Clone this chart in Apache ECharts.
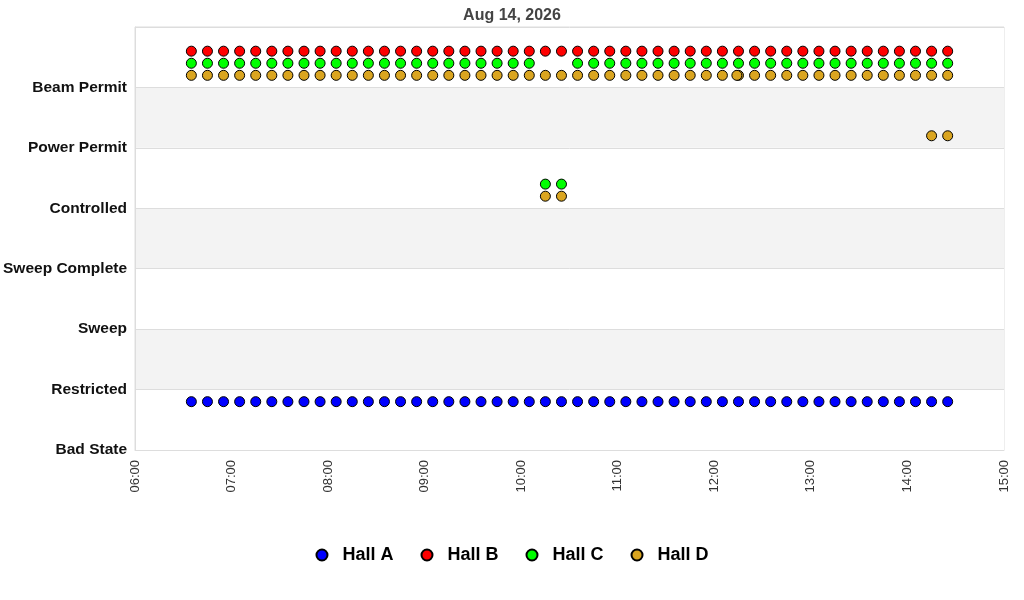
<!DOCTYPE html>
<html>
<head>
<meta charset="utf-8">
<script src="https://cdn.jsdelivr.net/npm/echarts@6/dist/echarts.min.js"></script>
<style>
  html, body { margin: 0; padding: 0; background: #fff; }
  #chart { width: 1024px; height: 600px; }
</style>
</head>
<body>
<div id="chart"></div>
<script>
// y axis states, bottom to top
const states = ['Bad State', 'Restricted', 'Sweep', 'Sweep Complete', 'Controlled', 'Power Permit', 'Beam Permit'];

// x axis hour ticks
const hourLabels = ['06:00', '07:00', '08:00', '09:00', '10:00', '11:00', '12:00', '13:00', '14:00', '15:00'];

// sample times (every reading)
const times = [
  '06:35', '06:45', '06:55', '07:05', '07:15', '07:25', '07:35', '07:45', '07:55', '08:05',
  '08:15', '08:25', '08:35', '08:45', '08:55', '09:05', '09:15', '09:25', '09:35', '09:45',
  '09:55', '10:05', '10:15', '10:25', '10:35', '10:45', '10:55', '11:05', '11:15', '11:25',
  '11:35', '11:45', '11:55', '12:05', '12:15', '12:25', '12:35', '12:45', '12:55', '13:05',
  '13:15', '13:25', '13:35', '13:45', '13:55', '14:05', '14:15', '14:25'
];

// state index per time, one array per hall
const hallA = [
  0, 0, 0, 0, 0, 0, 0, 0, 0, 0, 0, 0, 0, 0, 0, 0, 0, 0, 0, 0, 0, 0, 0, 0,
  0, 0, 0, 0, 0, 0, 0, 0, 0, 0, 0, 0, 0, 0, 0, 0, 0, 0, 0, 0, 0, 0, 0, 0
];
const hallB = [
  6, 6, 6, 6, 6, 6, 6, 6, 6, 6, 6, 6, 6, 6, 6, 6, 6, 6, 6, 6, 6, 6, 6, 6,
  6, 6, 6, 6, 6, 6, 6, 6, 6, 6, 6, 6, 6, 6, 6, 6, 6, 6, 6, 6, 6, 6, 6, 6
];
const hallC = [
  6, 6, 6, 6, 6, 6, 6, 6, 6, 6, 6, 6, 6, 6, 6, 6, 6, 6, 6, 6, 6, 6, 4, 4,
  6, 6, 6, 6, 6, 6, 6, 6, 6, 6, 6, 6, 6, 6, 6, 6, 6, 6, 6, 6, 6, 6, 6, 6
];
const hallD = [
  6, 6, 6, 6, 6, 6, 6, 6, 6, 6, 6, 6, 6, 6, 6, 6, 6, 6, 6, 6, 6, 6, 6, 6,
  6, 6, 6, 6, 6, 6, 6, 6, 6, 6, 6, 6, 6, 6, 6, 6, 6, 6, 6, 6, 6, 6, 6, 6
];
// extra Hall D readings [time, state]
const hallDExtra = [['10:15', 4], ['10:25', 4], ['12:14', 6], ['14:15', 5], ['14:25', 5]];

const hallNames = ['Hall A', 'Hall B', 'Hall C', 'Hall D'];
const hallColors = ['#0000ff', '#ff0000', '#00ff00', '#daa520'];
// vertical position of each hall inside a state band
const hallOffsets = [0.8, 0.6, 0.4, 0.2];

const toMin = t => {
  const p = t.split(':');
  return (+p[0] - 6) * 60 + (+p[1]);
};
const fmtMin = v => {
  const h = Math.floor(v / 60) + 6;
  const m = v % 60;
  return (h < 10 ? '0' : '') + h + ':' + (m < 10 ? '0' : '') + m;
};

const hallValues = [hallA, hallB, hallC, hallD];
const seriesData = hallValues.map((vals, i) => {
  const pts = vals.map((s, k) => [toMin(times[k]), s + hallOffsets[i]]);
  if (i === 3) {
    hallDExtra.forEach(e => pts.push([toMin(e[0]), e[1] + hallOffsets[i]]));
  }
  return pts;
});

const font = "'Liberation Sans', Arial, sans-serif";
const chart = echarts.init(document.getElementById('chart'));

chart.setOption({
  animation: false,
  backgroundColor: '#fff',
  title: {
    text: 'Aug 14, 2026',
    left: 'center',
    top: 3,
    textStyle: { fontFamily: font, fontSize: 16, fontWeight: 'bold', color: '#444' }
  },
  legend: {
    bottom: 31,
    left: 'center',
    icon: 'circle',
    itemWidth: 11,
    itemHeight: 11,
    itemGap: 27,
    data: hallNames,
    textStyle: { fontFamily: font, fontSize: 18, fontWeight: 'bold', color: '#000', padding: [0, 0, 0, 10] }
  },
  grid: {
    left: 135,
    right: 20,
    top: 27,
    bottom: 150,
    show: true,
    borderColor: '#dddddd',
    borderWidth: 1,
    containLabel: false
  },
  xAxis: {
    type: 'value',
    min: 0,
    max: 540,
    interval: 60,
    axisLine: { show: true, lineStyle: { color: '#dddddd' } },
    axisTick: { show: false },
    splitLine: { show: false },
    axisLabel: {
      rotate: 90,
      margin: 10,
      fontFamily: font,
      fontSize: 13,
      color: '#333',
      formatter: v => hourLabels[v / 60] || fmtMin(v)
    }
  },
  yAxis: {
    type: 'value',
    min: 0,
    max: 7,
    interval: 1,
    axisLine: { show: true, lineStyle: { color: '#dddddd' } },
    axisTick: { show: false },
    splitLine: { show: true, lineStyle: { color: '#dddddd' } },
    splitArea: { show: true, areaStyle: { color: ['#ffffff', '#f3f3f3'] } },
    axisLabel: {
      margin: 8,
      fontFamily: font,
      fontSize: 15.5,
      fontWeight: 'bold',
      color: '#111',
      formatter: v => states[v] || ''
    }
  },
  series: hallNames.map((name, i) => ({
    name: name,
    type: 'scatter',
    symbol: 'circle',
    symbolSize: 10,
    data: seriesData[i],
    itemStyle: { color: hallColors[i], borderColor: '#000', borderWidth: 1, opacity: 1 }
  }))
});
</script>
</body>
</html>
